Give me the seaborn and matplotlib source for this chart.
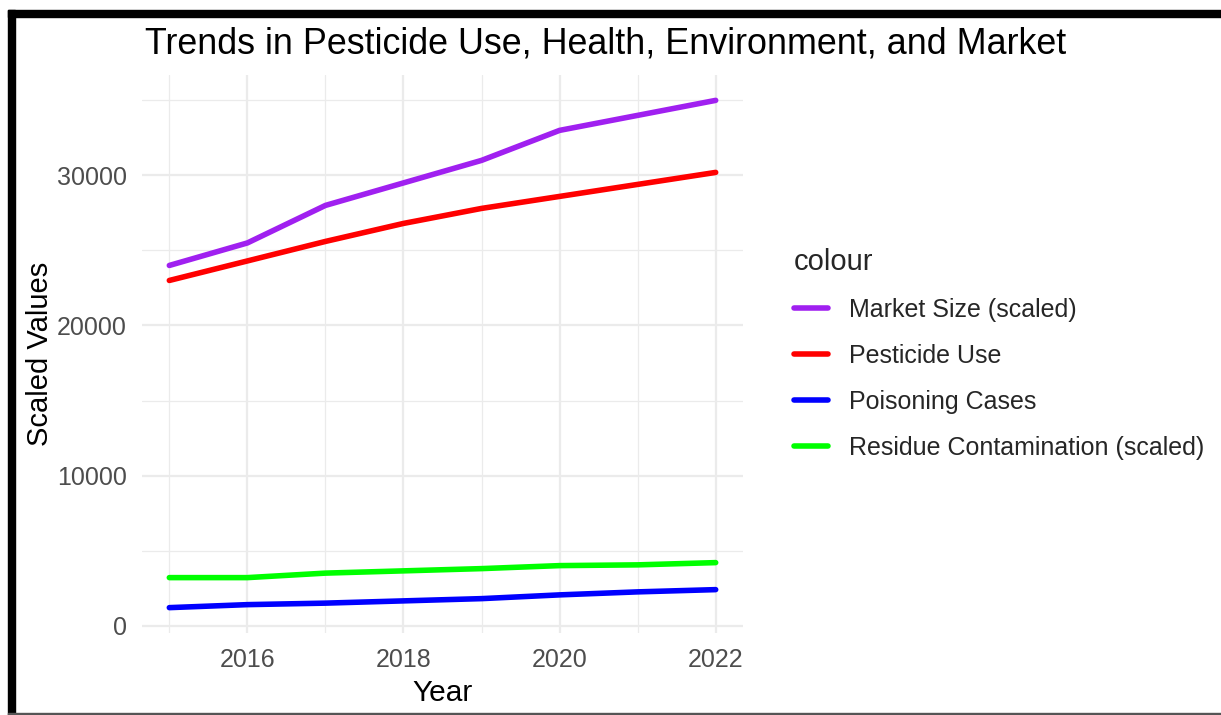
import numpy as np
import pandas as pd
import matplotlib
matplotlib.use("Agg")
import matplotlib.pyplot as plt
from matplotlib.patches import Rectangle
from matplotlib.ticker import MultipleLocator
import seaborn as sns

years = [2015, 2016, 2017, 2018, 2019, 2020, 2021, 2022]
market_size = [24000, 25500, 28000, 29500, 31000, 33000, 34000, 35000]
pesticide_use = [23000, 24300, 25600, 26800, 27800, 28600, 29400, 30200]
poisoning_cases = [1200, 1400, 1500, 1650, 1800, 2050, 2250, 2400]
residue_contamination = [3200, 3200, 3500, 3650, 3800, 4000, 4050, 4200]

series_names = ["Market Size (scaled)", "Pesticide Use", "Poisoning Cases",
                "Residue Contamination (scaled)"]
series_colors = ["#A020F0", "#FF0000", "#0000FF", "#00FF00"]
series_values = [market_size, pesticide_use, poisoning_cases, residue_contamination]

df = pd.DataFrame({
    "Year": np.tile(years, len(series_names)),
    "Value": np.concatenate(series_values),
    "colour": np.repeat(series_names, len(years)),
})

sns.set_theme(style="white")
plt.rcParams["font.family"] = ["Liberation Sans", "DejaVu Sans"]

fig = plt.figure(figsize=(12.21, 7.15), dpi=100)
W, H = 1221, 715
ax = fig.add_axes([142 / W, 1 - 633 / H, (743 - 142) / W, (633 - 75) / H])

sns.lineplot(data=df, x="Year", y="Value", hue="colour", hue_order=series_names,
             palette=dict(zip(series_names, series_colors)), linewidth=4.0, ax=ax)

# ggplot-like expansion
xr = max(years) - min(years)
ax.set_xlim(min(years) - 0.05 * xr, max(years) + 0.05 * xr)
allv = np.concatenate(series_values)
yr = allv.max() - allv.min()
ax.set_ylim(allv.min() - 0.05 * yr, allv.max() + 0.05 * yr)

ax.xaxis.set_major_locator(MultipleLocator(2))
ax.xaxis.set_minor_locator(MultipleLocator(1))
ax.yaxis.set_major_locator(MultipleLocator(10000))
ax.yaxis.set_minor_locator(MultipleLocator(5000))
ax.grid(True, which="major", color="#EBEBEB", linewidth=1.6)
ax.grid(True, which="minor", color="#EBEBEB", linewidth=0.9)
ax.set_axisbelow(True)
for s in ax.spines.values():
    s.set_visible(False)
ax.tick_params(axis="both", which="both", length=0, labelsize=18, labelcolor="#4D4D4D", pad=11)

ax.set_xlabel("Year", fontsize=21.5, color="black", labelpad=5)
ax.set_ylabel("Scaled Values", fontsize=21, color="black", labelpad=2)

fig.text(145 / W, 1 - 53 / H, "Trends in Pesticide Use, Health, Environment, and Market",
         fontsize=25.8, color="black", ha="left", va="baseline")

leg = ax.legend(title="colour", loc="upper left", bbox_to_anchor=(784 / W, 1 - 238 / H),
                bbox_transform=fig.transFigure, frameon=False, fontsize=18,
                title_fontsize=21, handlelength=1.35, handletextpad=0.85, labelspacing=0.88,
                borderaxespad=0)
leg._legend_box.align = "left"
for line in leg.get_lines():
    line.set_linewidth(4.0)

# screenshot frame
fig.patches.append(Rectangle((8 / W, 0), 7 / W, 1 - 10 / H, transform=fig.transFigure,
                             color="black", zorder=10))
fig.patches.append(Rectangle((8 / W, 1 - 17 / H), 1 - 8 / W, 7 / H, transform=fig.transFigure,
                             color="black", zorder=10))
fig.patches.append(Rectangle((8 / W, 0), 1 - 8 / W, 2 / H, transform=fig.transFigure,
                             color="#555555", zorder=10))

fig.savefig("out.png", dpi=100)
